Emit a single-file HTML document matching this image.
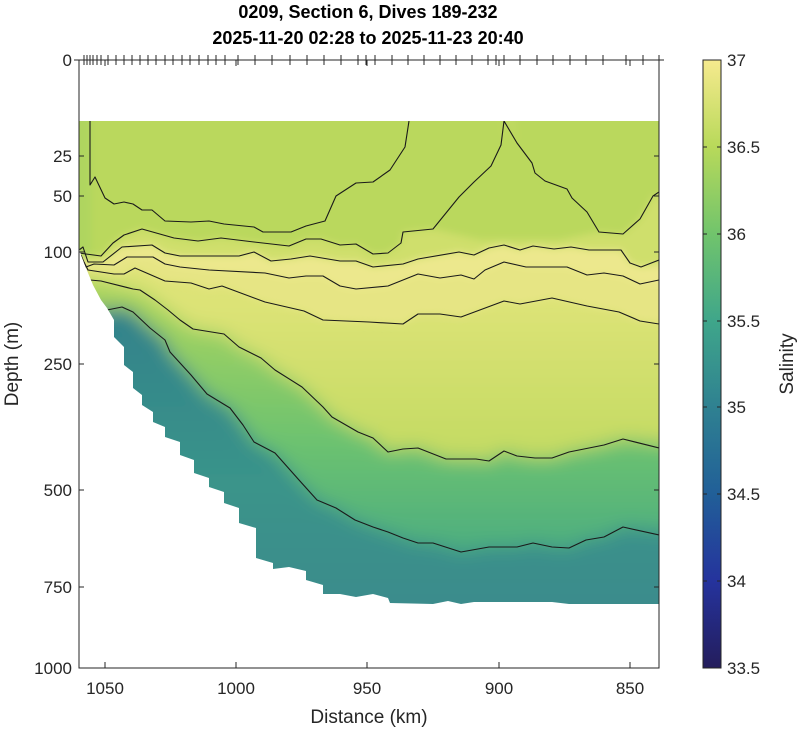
<!DOCTYPE html>
<html><head><meta charset="utf-8"><style>
html,body{margin:0;padding:0;background:#fff;}
svg{display:block;font-family:"Liberation Sans",sans-serif;}
</style></head><body>
<svg width="800" height="729" viewBox="0 0 800 729" xmlns="http://www.w3.org/2000/svg">
<defs>
<linearGradient id="cb" x1="0" y1="0" x2="0" y2="1">
<stop offset="0" stop-color="#f6ea8e"/><stop offset="0.143" stop-color="#b8d95a"/>
<stop offset="0.286" stop-color="#71c46c"/><stop offset="0.429" stop-color="#3fa68a"/>
<stop offset="0.571" stop-color="#2f8191"/><stop offset="0.714" stop-color="#215f98"/>
<stop offset="0.857" stop-color="#25339d"/><stop offset="1" stop-color="#241d5c"/>
</linearGradient>
<linearGradient id="gFG" x1="0" y1="300" x2="0" y2="560" gradientUnits="userSpaceOnUse">
<stop offset="0" stop-color="#a8d45f"/><stop offset="0.55" stop-color="#6cc270"/><stop offset="1" stop-color="#4aac81"/>
</linearGradient>
<linearGradient id="gG" x1="0" y1="300" x2="0" y2="604" gradientUnits="userSpaceOnUse">
<stop offset="0" stop-color="#32818b"/><stop offset="0.6" stop-color="#3a948a"/><stop offset="1" stop-color="#3a8c8c"/>
</linearGradient>
<linearGradient id="gEF" x1="0" y1="300" x2="0" y2="450" gradientUnits="userSpaceOnUse">
<stop offset="0" stop-color="#dde377"/><stop offset="1" stop-color="#c4db63"/>
</linearGradient>
<filter id="bl" x="-10%" y="-10%" width="120%" height="120%"><feGaussianBlur stdDeviation="9"/></filter>
<filter id="bs" x="-10%" y="-10%" width="120%" height="120%"><feGaussianBlur stdDeviation="4"/></filter>
<clipPath id="mask"><polygon points="79,121 659,121 659,604 569,604 552,602 474,602 461,604 448,601 433,604 390,603 388,598 373,594 356,597 340,594 323,594 323,585 306,580 306,571 289,567 273,569 273,563 256,558 256,528 239,523 239,508 224,503 224,492 209,487 209,478 194,473 194,460 180,455 180,442 165,437 165,427 153,422 153,412 142,405 142,395 133,388 133,372 124,365 124,347 114,337 114,320 107,308 101,300 93,285 86,268 81,255 79,247"/></clipPath>
</defs>

<g clip-path="url(#mask)">
<g filter="url(#bl)">
<rect x="30" y="80" width="680" height="580" fill="url(#gG)"/>
<polygon fill="url(#gFG)" points="30,80 30,300 107,310 122,307 133,312 150,328 165,340 170,352 191,375 207,394 230,408 243,425 254,442 275,453 299,480 317,500 336,508 355,520 373,527 388,532 403,538 418,543 433,543 461,552 489,547 517,547 533,543 552,547 569,548 586,540 604,537 623,527 710,535 710,80"/>
<polygon fill="url(#gEF)" points="30,80 30,278 90,280 101,281 133,289 140,290 155,300 168,310 180,320 193,329 224,334 239,347 261,358 275,370 302,387 323,407 332,417 358,432 373,438 388,452 403,449 418,448 446,459 476,459 489,461 504,451 517,456 535,458 552,458 569,452 604,445 623,439 710,448 710,80"/>
</g>
<g filter="url(#bs)">
<polygon fill="#e6e584" points="30,80 30,268 88,270 101,272 114,274 124,274 135,268 165,281 191,283 209,289 222,286 265,302 304,311 323,320 369,322 403,324 418,314 440,314 461,317 504,301 520,304 552,298 587,306 619,312 640,321 710,324 710,80"/>
<polygon fill="#ece88d" points="30,80 30,265 86,267 94,264 114,265 127,257 153,257 165,264 180,267 209,270 265,273 289,278 306,276 323,276 340,286 356,289 388,286 418,274 440,278 461,275 474,279 485,270 504,262 526,267 567,267 587,275 604,273 623,276 640,284 710,280 710,80"/>
<polygon fill="#cfdf6c" points="30,80 30,250 83,247 88,262 103,262 122,247 152,245 165,253 180,256 239,256 254,252 271,261 291,259 310,256 340,261 356,261 373,267 403,264 418,259 459,252 474,255 489,248 504,245 520,250 533,246 554,249 571,247 589,250 621,250 630,263 641,267 710,260 710,80"/>
<polygon fill="#bad85d" points="30,80 30,253 86,254 101,256 113,243 124,235 142,229 174,238 198,241 221,238 254,242 289,246 306,239 321,239 340,245 356,244 373,254 388,253 401,243 403,232 433,229 459,197 474,182 491,166 501,145 504,80 517,143 532,163 535,173 545,181 567,189 572,198 587,212 599,232 623,234 640,219 653,196 710,192 710,80"/>
<polygon fill="#bad85d" points="433,229 459,197 474,182 491,166 501,145 504,100 517,143 532,163 535,173 545,181 567,189 572,198 587,212 599,232 560,240 480,240"/>
<rect x="30" y="80" width="61" height="180" fill="#a8d35f" opacity="0.6"/>
</g>
<g fill="none" stroke="#1a1a1a" stroke-width="1.1" stroke-linejoin="round">
<polyline points="90,121 90,185 95,177 105,198 114,204 124,202 133,204 142,210 152,210 165,221 191,222 209,221 224,224 254,227 263,232 291,232 306,226 325,221 336,196 356,183 373,182 390,170 405,147 409,121"/>
<polyline points="79,253 86,254 101,256 113,243 124,235 142,229 174,238 198,241 221,238 254,242 289,246 306,239 321,239 340,245 356,244 373,254 388,253 401,243 403,232 433,229 459,197 474,182 491,166 501,145 504,121 517,143 532,163 535,173 545,181 567,189 572,198 587,212 599,232 623,234 640,219 653,196 659,192"/>
<polyline points="79,250 83,247 88,262 103,262 122,247 152,245 165,253 180,256 239,256 254,252 271,261 291,259 310,256 340,261 356,261 373,267 403,264 418,259 459,252 474,255 489,248 504,245 520,250 533,246 554,249 571,247 589,250 621,250 630,263 641,267 659,260"/>
<polyline points="81,255 86,267 94,264 114,265 127,257 153,257 165,264 180,267 209,270 265,273 289,278 306,276 323,276 340,286 356,289 388,286 418,274 440,278 461,275 474,279 485,270 504,262 526,267 567,267 587,275 604,273 623,276 640,284 659,280"/>
<polyline points="84,262 88,270 101,272 114,274 124,274 135,268 165,281 191,283 209,289 222,286 265,302 304,311 323,320 369,322 403,324 418,314 440,314 461,317 504,301 520,304 552,298 587,306 619,312 640,321 659,324"/>
<polyline points="90,280 101,281 133,289 140,290 155,300 168,310 180,320 193,329 224,334 239,347 261,358 275,370 302,387 323,407 332,417 358,432 373,438 388,452 403,449 418,448 446,459 476,459 489,461 504,451 517,456 535,458 552,458 569,452 604,445 623,439 659,448"/>
<polyline points="107,310 122,307 133,312 150,328 165,340 170,352 191,375 207,394 230,408 243,425 254,442 275,453 299,480 317,500 336,508 355,520 373,527 388,532 403,538 418,543 433,543 461,552 489,547 517,547 533,543 552,547 569,548 586,540 604,537 623,527 659,535"/>
</g>
</g>

<rect x="79" y="60" width="580" height="608" fill="none" stroke="#262626" stroke-width="1"/>
<g stroke="#262626" stroke-width="1">
<line x1="79" y1="156" x2="84" y2="156"/><line x1="79" y1="196" x2="84" y2="196"/><line x1="79" y1="252" x2="84" y2="252"/><line x1="79" y1="364" x2="84" y2="364"/><line x1="79" y1="490" x2="84" y2="490"/><line x1="79" y1="587" x2="84" y2="587"/>
<line x1="654" y1="156" x2="659" y2="156"/><line x1="654" y1="196" x2="659" y2="196"/><line x1="654" y1="252" x2="659" y2="252"/><line x1="654" y1="364" x2="659" y2="364"/><line x1="654" y1="490" x2="659" y2="490"/><line x1="654" y1="587" x2="659" y2="587"/>
<line x1="105" y1="668" x2="105" y2="662"/><line x1="236" y1="668" x2="236" y2="662"/><line x1="367" y1="668" x2="367" y2="662"/><line x1="499" y1="668" x2="499" y2="662"/><line x1="630" y1="668" x2="630" y2="662"/>
<line x1="105" y1="60" x2="105" y2="66"/><line x1="236" y1="60" x2="236" y2="66"/><line x1="367" y1="60" x2="367" y2="66"/><line x1="499" y1="60" x2="499" y2="66"/><line x1="630" y1="60" x2="630" y2="66"/>
<line x1="74" y1="60" x2="664" y2="60"/>
</g>
<g stroke="#262626" stroke-width="1">
<line x1="84" y1="55" x2="84" y2="65"/><line x1="87" y1="55" x2="87" y2="65"/><line x1="90" y1="55" x2="90" y2="65"/><line x1="93" y1="55" x2="93" y2="65"/><line x1="97" y1="55" x2="97" y2="65"/><line x1="101" y1="55" x2="101" y2="65"/><line x1="108" y1="55" x2="108" y2="65"/>
<line x1="116" y1="55" x2="116" y2="65"/><line x1="124" y1="55" x2="124" y2="65"/><line x1="132" y1="55" x2="132" y2="65"/><line x1="140" y1="55" x2="140" y2="65"/><line x1="148" y1="55" x2="148" y2="65"/><line x1="156" y1="55" x2="156" y2="65"/><line x1="165" y1="55" x2="165" y2="65"/><line x1="173" y1="55" x2="173" y2="65"/><line x1="182" y1="55" x2="182" y2="65"/><line x1="190" y1="55" x2="190" y2="65"/><line x1="199" y1="55" x2="199" y2="65"/><line x1="208" y1="55" x2="208" y2="65"/><line x1="216" y1="55" x2="216" y2="65"/><line x1="225" y1="55" x2="225" y2="65"/><line x1="238" y1="55" x2="238" y2="65"/><line x1="255" y1="55" x2="255" y2="65"/><line x1="272" y1="55" x2="272" y2="65"/><line x1="290" y1="55" x2="290" y2="65"/><line x1="307" y1="55" x2="307" y2="65"/><line x1="324" y1="55" x2="324" y2="65"/><line x1="341" y1="55" x2="341" y2="65"/><line x1="358" y1="55" x2="358" y2="65"/><line x1="366" y1="55" x2="366" y2="65"/><line x1="375" y1="55" x2="375" y2="65"/><line x1="392" y1="55" x2="392" y2="65"/><line x1="408" y1="55" x2="408" y2="65"/><line x1="424" y1="55" x2="424" y2="65"/><line x1="440" y1="55" x2="440" y2="65"/><line x1="456" y1="55" x2="456" y2="65"/><line x1="472" y1="55" x2="472" y2="65"/><line x1="488" y1="55" x2="488" y2="65"/><line x1="496" y1="55" x2="496" y2="65"/><line x1="504" y1="55" x2="504" y2="65"/><line x1="520" y1="55" x2="520" y2="65"/><line x1="537" y1="55" x2="537" y2="65"/><line x1="553" y1="55" x2="553" y2="65"/><line x1="570" y1="55" x2="570" y2="65"/><line x1="586" y1="55" x2="586" y2="65"/><line x1="603" y1="55" x2="603" y2="65"/><line x1="626" y1="55" x2="626" y2="65"/><line x1="643" y1="55" x2="643" y2="65"/><line x1="659" y1="55" x2="659" y2="65"/>
</g>

<g fill="#262626" font-size="17" text-anchor="end">
<text x="72" y="66">0</text><text x="72" y="162">25</text><text x="72" y="202">50</text><text x="72" y="258">100</text><text x="72" y="370">250</text><text x="72" y="496">500</text><text x="72" y="593">750</text><text x="72" y="674">1000</text>
</g>
<g fill="#262626" font-size="17" text-anchor="middle">
<text x="105" y="694">1050</text><text x="236" y="694">1000</text><text x="367" y="694">950</text><text x="499" y="694">900</text><text x="630" y="694">850</text>
<text x="369" y="723" font-size="19">Distance (km)</text>
<text transform="translate(18,364) rotate(-90)" font-size="19">Depth (m)</text>
<text x="368" y="18" font-size="18" font-weight="bold" fill="#000">0209, Section 6, Dives 189-232</text>
<text x="368" y="44" font-size="18" font-weight="bold" fill="#000">2025-11-20 02:28 to 2025-11-23 20:40</text>
</g>

<rect x="703" y="60" width="18" height="608" fill="url(#cb)" stroke="#262626" stroke-width="1"/>
<g stroke="#262626" stroke-width="1">
<line x1="703" y1="147" x2="707" y2="147"/><line x1="717" y1="147" x2="721" y2="147"/>
<line x1="703" y1="234" x2="707" y2="234"/><line x1="717" y1="234" x2="721" y2="234"/>
<line x1="703" y1="321" x2="707" y2="321"/><line x1="717" y1="321" x2="721" y2="321"/>
<line x1="703" y1="407" x2="707" y2="407"/><line x1="717" y1="407" x2="721" y2="407"/>
<line x1="703" y1="494" x2="707" y2="494"/><line x1="717" y1="494" x2="721" y2="494"/>
<line x1="703" y1="581" x2="707" y2="581"/><line x1="717" y1="581" x2="721" y2="581"/>
</g>
<g fill="#262626" font-size="17">
<text x="727" y="66">37</text><text x="727" y="153">36.5</text><text x="727" y="240">36</text><text x="727" y="327">35.5</text><text x="727" y="413">35</text><text x="727" y="500">34.5</text><text x="727" y="587">34</text><text x="727" y="674">33.5</text>
<text transform="translate(793,364) rotate(-90)" text-anchor="middle" font-size="19">Salinity</text>
</g>
</svg>
</body></html>
